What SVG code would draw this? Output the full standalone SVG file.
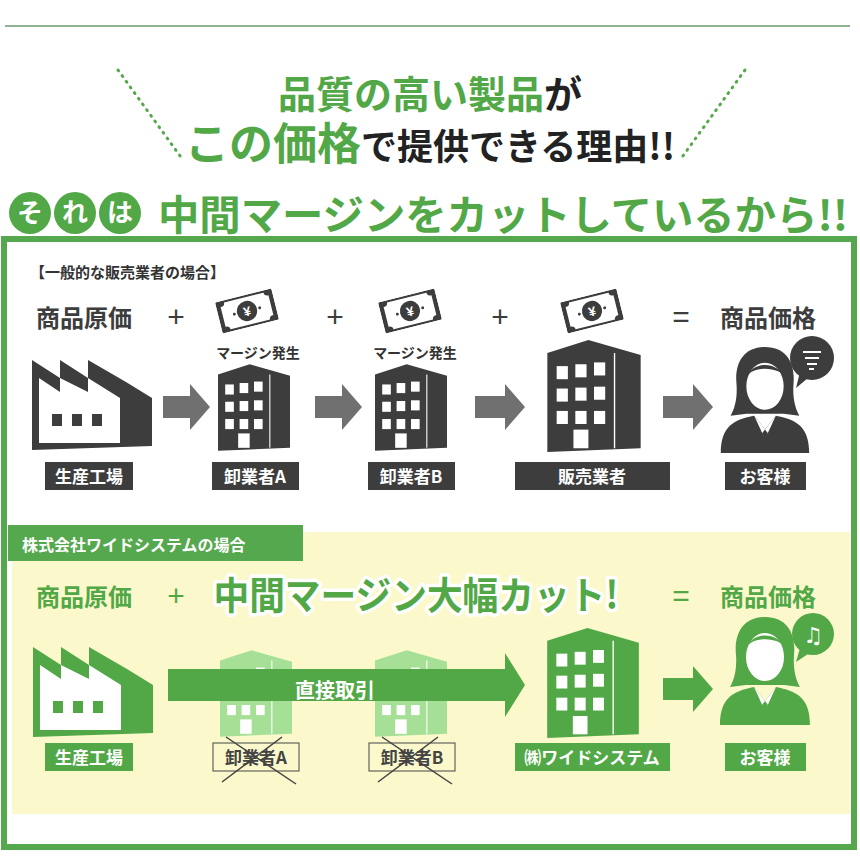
<svg xmlns="http://www.w3.org/2000/svg" width="860" height="860" viewBox="0 0 860 860">
<style>
.jp{font-family:"Noto Sans CJK JP","Noto Sans",sans-serif;font-weight:700}
.g{fill:#52a847}.k{fill:#222}.d{fill:#3d3d3d}.w{fill:#fff}
.lab{font-family:"Noto Sans CJK JP",sans-serif;font-weight:700;font-size:17px;fill:#fff;text-anchor:middle}
.op{font-family:"Liberation Sans",sans-serif;font-size:30px;text-anchor:middle}
</style>
<defs>
<symbol id="bld" viewBox="0 0 100 120">
<path d="M0,14 L44,0 L100,16 L100,116 L0,120 Z"/>
<line x1="72" y1="14" x2="72" y2="116" stroke="#fff" stroke-width="1.5"/>
<g fill="#fff">
<rect x="10" y="28" width="12" height="14"/><rect x="30" y="26" width="12" height="14"/><rect x="50" y="24" width="12" height="14"/>
<rect x="10" y="52" width="12" height="14"/><rect x="30" y="51" width="12" height="14"/><rect x="50" y="50" width="12" height="14"/>
<rect x="10" y="76" width="12" height="14"/><rect x="30" y="76" width="12" height="14"/><rect x="50" y="76" width="12" height="14"/>
<rect x="28" y="96" width="16" height="20"/>
</g>
</symbol>
<symbol id="fac" viewBox="0 0 120 92">
<path d="M0,92 L0,2 L28,20 L28,2 L56,20 L56,2 L94,24 L120,40 L120,88 Z"/>
<path d="M7,85 V20 L28,34 V20 L56,34 V20 L88,40 V85 Z" fill="#fff"/>
<g><rect x="20" y="56" width="10" height="12"/><rect x="40" y="56" width="10" height="12"/><rect x="60" y="56" width="10" height="12"/></g>
</symbol>
<symbol id="per" viewBox="0 0 90 110">
<path d="M45,2 C22,2 14,20 16,40 C17,55 14,65 10,72 L26,70 L64,70 L80,72 C76,65 73,55 74,40 C76,20 68,2 45,2 Z"/>
<ellipse cx="45" cy="42" rx="19" ry="24" fill="#fff"/>
<path d="M26,34 C30,18 56,14 66,34 C62,22 30,20 26,34 Z"/>
<path d="M0,110 C0,82 14,76 34,72 L45,86 L56,72 C76,76 90,82 90,110 Z"/>
<path d="M34,72 L45,96 L56,72 L45,86 Z" fill="#fff"/>
<path d="M42,90 L45,86 L48,90 L45,98 Z"/>
</symbol>
<symbol id="bill" viewBox="0 0 80 44">
<rect x="0" y="0" width="80" height="44" rx="2"/>
<path d="M6,8 Q12,8 12,3 L68,3 Q68,8 74,8 L74,36 Q68,36 68,41 L12,41 Q12,36 6,36 Z" fill="#fff"/>
<circle cx="40" cy="22" r="14"/>
<text x="40" y="29" font-family="Liberation Sans,sans-serif" font-weight="700" font-size="18" fill="#fff" text-anchor="middle">¥</text>
<circle cx="22" cy="22" r="2"/><circle cx="58" cy="22" r="2"/>
</symbol>
</defs>

<line x1="5" y1="26" x2="850" y2="26" stroke="#6e9a6e" stroke-width="1.5"/>
<g id="title">
<line x1="118" y1="70" x2="183" y2="160" stroke="#55a84a" stroke-width="3" stroke-dasharray="1 6" stroke-linecap="round"/>
<line x1="745" y1="70" x2="680" y2="160" stroke="#55a84a" stroke-width="3" stroke-dasharray="1 6" stroke-linecap="round"/>
<text x="430" y="108" class="jp" font-size="38" text-anchor="middle"><tspan class="g">品質の高い製品</tspan><tspan class="k">が</tspan></text>
<text x="430" y="160" class="jp" text-anchor="middle"><tspan class="g" font-size="44">この価格</tspan><tspan class="k" font-size="36">で提供できる理由!!</tspan></text>
<g class="g"><circle cx="30" cy="213" r="21"/><circle cx="75" cy="213" r="21"/><circle cx="120" cy="213" r="21"/></g>
<g class="jp w" font-size="26" text-anchor="middle"><text x="30" y="222">そ</text><text x="75" y="222">れ</text><text x="120" y="222">は</text></g>
<text x="503" y="230" class="jp g" font-size="41" text-anchor="middle" textLength="690" lengthAdjust="spacingAndGlyphs">中間マージンをカットしているから!!</text>
</g>

<rect x="4" y="239" width="850" height="608" fill="#fff" stroke="#56a84e" stroke-width="6"/>

<g id="general">
<text x="30" y="278" class="jp" font-size="15" fill="#333" font-weight="500">【一般的な販売業者の場合】</text>
<text x="36" y="327" class="jp d" font-size="24">商品原価</text>
<text x="720" y="327" class="jp d" font-size="24">商品価格</text>
<g class="op d"><text x="176" y="327">+</text><text x="335" y="327">+</text><text x="500" y="327">+</text><text x="681" y="327">=</text></g>
<use href="#bill" x="218" y="295" width="58" height="32" class="d" transform="rotate(-14 247 311)"/>
<use href="#bill" x="381" y="295" width="58" height="32" class="d" transform="rotate(-14 410 311)"/>
<use href="#bill" x="563" y="295" width="58" height="32" class="d" transform="rotate(-14 592 311)"/>
<text x="258" y="358" class="jp" font-size="14" font-weight="500" fill="#333" text-anchor="middle">マージン発生</text>
<text x="415" y="358" class="jp" font-size="14" font-weight="500" fill="#333" text-anchor="middle">マージン発生</text>
<g id="n-factory1"><use href="#fac" x="32" y="358" width="120" height="92" class="d"/><rect x="45" y="462" width="88" height="28" class="d"/><text x="89" y="483" class="lab">生産工場</text></g>
<g id="n-a1"><use href="#bld" x="218" y="364" width="72" height="87" class="d"/><rect x="212" y="462" width="87" height="28" class="d"/><text x="255" y="483" class="lab">卸業者A</text></g>
<g id="n-b1"><use href="#bld" x="375" y="364" width="72" height="87" class="d"/><rect x="368" y="462" width="87" height="28" class="d"/><text x="411" y="483" class="lab">卸業者B</text></g>
<g id="n-seller"><use href="#bld" x="547" y="340" width="94" height="112" class="d"/><rect x="515" y="462" width="155" height="28" class="d"/><text x="592" y="483" class="lab">販売業者</text></g>
<g id="n-cust1"><use href="#per" x="720" y="345" width="90" height="108" class="d"/>
<circle cx="812" cy="358" r="22" class="d"/><path d="M800,372 L796,388 L808,378 Z" class="d"/>
<path d="M803,352 h18 M805,358 h14 M807,364 h10 M809,369 h5" stroke="#fff" stroke-width="2"/>
<rect x="725" y="462" width="81" height="28" class="d"/><text x="765" y="483" class="lab">お客様</text></g>
</g>
<g id="connectors1" fill="#707070">
<path d="M163,396 h27 v-12 l20,23 l-20,23 v-12 h-27 Z"/>
<path d="M315,396 h27 v-12 l20,23 l-20,23 v-12 h-27 Z"/>
<path d="M475,396 h30 v-12 l20,23 l-20,23 v-12 h-30 Z"/>
<path d="M663,396 h30 v-12 l20,23 l-20,23 v-12 h-30 Z"/>
</g>

<g id="wide">
<rect x="12" y="532" width="838" height="282" fill="#fbf9cc"/>
<rect x="8" y="525" width="295" height="36" fill="#56a84e"/>
<text x="22" y="551" class="jp w" font-size="16">株式会社ワイドシステムの場合</text>
<text x="36" y="606" class="jp g" font-size="24">商品原価</text>
<text x="720" y="606" class="jp g" font-size="24">商品価格</text>
<g class="op g"><text x="176" y="606">+</text><text x="681" y="606">=</text></g>
<text x="416" y="609" class="jp g" font-size="38" text-anchor="middle" stroke="#fff" stroke-width="7" stroke-linejoin="round" paint-order="stroke" textLength="405" lengthAdjust="spacingAndGlyphs">中間マージン大幅カット!</text>
<g id="n-factory2"><use href="#fac" x="33" y="645" width="120" height="92" class="g"/><rect x="45" y="743" width="88" height="28" class="g"/><text x="89" y="764" class="lab">生産工場</text></g>
<g id="n-a2"><use href="#bld" x="220" y="650" width="72" height="87" fill="#a6e096"/>
<rect x="213" y="743" width="86" height="28" fill="none" stroke="#444" stroke-width="1"/><text x="256" y="764" class="lab" style="fill:#444">卸業者A</text>
<path d="M222,782 L282,737 M226,737 L296,784" stroke="#444" stroke-width="1.5"/></g>
<g id="n-b2"><use href="#bld" x="375" y="650" width="72" height="87" fill="#a6e096"/>
<rect x="369" y="743" width="86" height="28" fill="none" stroke="#444" stroke-width="1"/><text x="412" y="764" class="lab" style="fill:#444">卸業者B</text>
<path d="M378,782 L438,737 M382,737 L452,784" stroke="#444" stroke-width="1.5"/></g>
<g id="n-wide"><use href="#bld" x="545" y="628" width="96" height="110" class="g"/><rect x="515" y="743" width="155" height="28" class="g"/><text x="592" y="764" class="lab">㈱ワイドシステム</text></g>
<g id="n-cust2"><use href="#per" x="720" y="615" width="90" height="110" class="g"/>
<circle cx="813" cy="634" r="21" class="g"/><path d="M800,648 L796,662 L808,654 Z" class="g"/>
<text x="813" y="643" font-family="DejaVu Sans,sans-serif" font-size="22" fill="#fff" text-anchor="middle">♫</text>
<rect x="725" y="743" width="81" height="28" class="g"/><text x="765" y="764" class="lab">お客様</text></g>
</g>
<g id="connectors2" class="g">
<path d="M168,669 h337 v-16 l20,32 l-20,32 v-16 h-337 Z"/>
<path d="M663,678 h30 v-12 l20,23 l-20,23 v-12 h-30 Z"/>
</g>
<text x="335" y="698" class="jp w" font-size="20" text-anchor="middle">直接取引</text>
</svg>
